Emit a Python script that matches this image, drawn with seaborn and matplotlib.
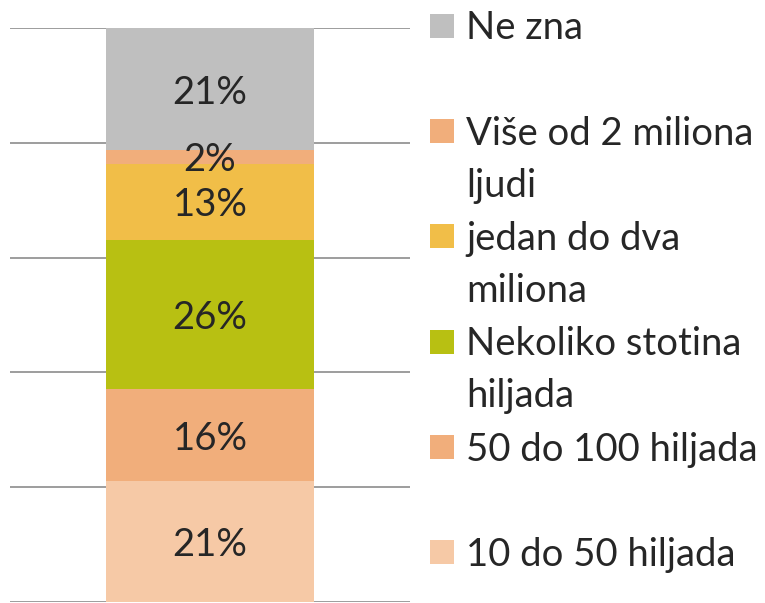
import matplotlib
matplotlib.use("Agg")
import numpy as np
import pandas as pd
import seaborn as sns
import matplotlib.pyplot as plt
from matplotlib.patches import Rectangle

# segment values, bottom to top (percent)
categories = ["10 do 50 hiljada", "50 do 100 hiljada", "Nekoliko stotina hiljada",
              "jedan do dva miliona", "Više od 2 miliona ljudi", "Ne zna"]
values = [21.0, 16.1, 26.0, 13.3, 2.4, 21.2]
colors = ["#F6C9A6", "#F1AE7B", "#B8C012", "#F1BE48", "#F1AE7B", "#BFBFBF"]
# legend text, top to bottom, wrapped like the original
legend_lines = [["Ne zna"], ["Više od 2 miliona", "ljudi"], ["jedan do dva", "miliona"],
                ["Nekoliko stotina", "hiljada"], ["50 do 100 hiljada"], ["10 do 50 hiljada"]]

sns.set_style("white")
plt.rcParams["font.family"] = ["Lato", "DejaVu Sans"]
txt_color = "#262626"

W, H = 765, 603
fig = plt.figure(figsize=(W / 100, H / 100), dpi=100)
top_px, bot_px = 28.3, 601.8
ax = fig.add_axes([10 / W, 1 - bot_px / H, 400 / W, (bot_px - top_px) / H])

df = pd.DataFrame({"cat": categories, "value": values, "color": colors})
df["top"] = df["value"].cumsum()
df["mid"] = df["top"] - df["value"] / 2

# draw the stack from the tallest cumulative bar down so each segment shows
for i in reversed(range(len(df))):
    sns.barplot(x=["s"], y=[df["top"][i]], color=df["color"][i], width=0.52,
                saturation=1, linewidth=0, ax=ax)

for _, r in df.iterrows():
    ax.annotate(f"{r['value']:.0f}%", (0, r["mid"]), xytext=(0, -2.5),
                textcoords="offset points", ha="center", va="center",
                fontsize=27.5, color=txt_color)

ax.set_ylim(0, 100)
ax.set_yticks(np.arange(0, 101, 20))
ax.grid(axis="y", color="#8C8C8C", linewidth=1.2)
ax.set_axisbelow(True)
for s in ax.spines.values():
    s.set_visible(False)
ax.tick_params(left=False, labelleft=False, bottom=False, labelbottom=False)
ax.set_xlabel("")
ax.set_ylabel("")

# manual legend to mimic the spacing of the original
legend_colors = colors[::-1]
for k, (lines, c) in enumerate(zip(legend_lines, legend_colors)):
    base = 39.3 + k * 105.3
    fig.patches.append(Rectangle((430 / W, 1 - (base - 1.5) / H), 24 / W, 24 / H,
                                 transform=fig.transFigure, color=c, linewidth=0))
    for j, line in enumerate(lines):
        fig.text(466 / W, 1 - (base + j * 52) / H, line, ha="left", va="baseline",
                 fontsize=27.5, color=txt_color)

fig.savefig("out.png", dpi=100)
